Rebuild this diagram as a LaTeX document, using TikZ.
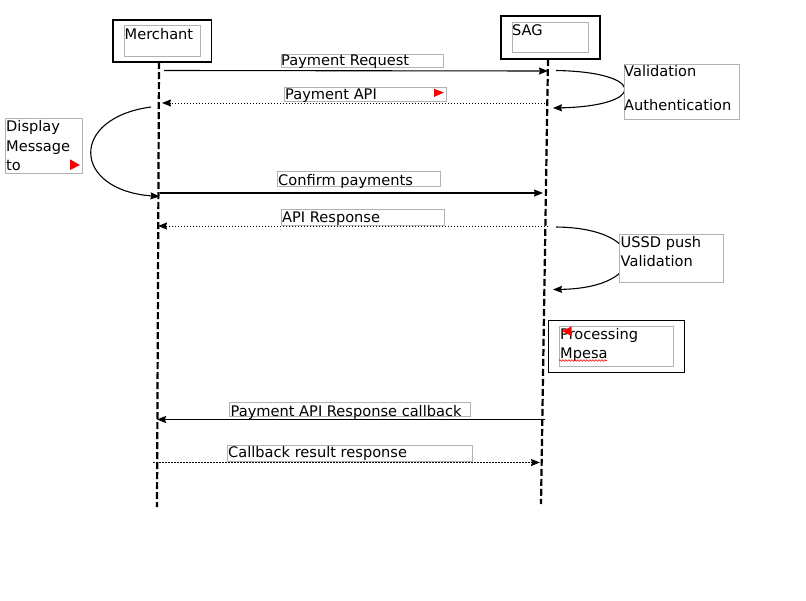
\documentclass[tikz,border=0pt]{standalone}
\usepackage{fontspec}
\setmainfont{DejaVu Sans}
\usetikzlibrary{arrows.meta,decorations.pathmorphing}

\tikzset{
    txt/.style={anchor=base west, inner sep=0pt, font=\fontsize{14.6}{19}\selectfont},
    frame/.style={draw=black!30, fill=white, line width=1pt},
    actor/.style={draw, line width=1.6pt},
    life/.style={line width=2.2pt, dash pattern=on 7pt off 3pt},
    msg/.style={line width=1.1pt, -{Stealth[length=9pt, width=7pt, inset=1pt]}},
    reply/.style={msg, line width=1pt, dash pattern=on 1.5pt off 1.5pt},
    flag/.style={fill=red, draw=none}
}

\begin{document}
\begin{tikzpicture}[x=1pt, y=-1pt]
    \useasboundingbox (0,0) rectangle (806,600);
    % lifelines
    \coordinate (Mtop) at (159,62);
    \coordinate (Mbot) at (157,507);
    \coordinate (Stop) at (548,59);
    \coordinate (Sbot) at (541,504);
    \draw[life] (Mtop) -- (Mbot);
    \draw[life] (Stop) -- (Sbot);
    % message end points
    \path coordinate (m1) at (164,70.5)  coordinate (s1) at (548,71)
          coordinate (s2) at (548,103)   coordinate (m2) at (162,103)
          coordinate (s3a) at (556,70.5) coordinate (s3b) at (553,108)
          coordinate (m4a) at (151,107)  coordinate (m4b) at (159.5,196.5)
          coordinate (m5) at (160,193)   coordinate (s5) at (543,193)
          coordinate (s6) at (548,226)   coordinate (m6) at (158,226)
          coordinate (s7a) at (556,227)  coordinate (s7b) at (553,289.5)
          coordinate (s8) at (545,419.5) coordinate (m8) at (157,419.5)
          coordinate (m9) at (153,462.5) coordinate (s9) at (540,462.5);
    \draw[msg]   (m1) -- (s1);
    \draw[reply] (s2) -- (m2);
    \draw[msg]   (s3a) .. controls (647,72) and (647,106) .. (s3b);
    \draw[msg]   (m4a) .. controls (69,118) and (72,190) .. (m4b);
    \draw[msg]   (m5) -- (s5);
    \draw[reply] (s6) -- (m6);
    \draw[msg]   (s7a) .. controls (650,228) and (650,288) .. (s7b);
    \draw[msg]   (s8) -- (m8);
    \draw[reply] (m9) -- (s9);
    % actors
    \draw[actor] (113,20) rectangle (211.5,62);
    \draw[frame] (124,25.7) rectangle (200.7,56);
    \draw[actor] (501,16) rectangle (600,59);
    \draw[frame] (512.3,22.3) rectangle (588.7,52.3);
    \draw[actor] (548.3,320.5) rectangle (684.3,372.5);
    \draw[frame] (559,326) rectangle (673.7,366);
    % label frames
    \draw[frame] (281,54) rectangle (443,67);
    \draw[frame] (284,87) rectangle (446,101);
    \draw[frame] (624.3,64.3) rectangle (739.3,119.3);
    \draw[frame] (5.3,118.3) rectangle (82.3,173.3);
    \draw[frame] (277.3,171.7) rectangle (440.3,186.7);
    \draw[frame] (281.7,209.5) rectangle (444,225);
    \draw[frame] (619.3,234.3) rectangle (723.7,282.3);
    \draw[frame] (229.3,402.3) rectangle (470.3,416.7);
    \draw[frame] (227.3,445) rectangle (472.7,461);
    % texts
    \path node[txt] (merchant) at (124.5,39) {Merchant}
          node[txt] (sag) at (512,35) {SAG}
          node[txt] (req) at (281,65.5) {Payment Request}
          node[txt] (api) at (285,99) {Payment API}
          node[txt] (valid) at (624,76.5) {Validation}
          node[txt] (auth) at (624,110.5) {Authentication}
          node[txt] (display) at (6,131.5) {Display}
          node[txt] (message) at (6,151) {Message}
          node[txt] (to) at (6,170) {to}
          node[txt] (confirm) at (278,185) {Confirm payments}
          node[txt] (apiresp) at (282,222.5) {API Response}
          node[txt] (ussd) at (620.5,247) {USSD push}
          node[txt] (ussdvalid) at (620.5,266.5) {Validation}
          node[txt] (proc) at (560,339) {Processing}
          node[txt] (mpesa) at (560,358) {Mpesa}
          node[txt] (callback) at (230.5,416) {Payment API Response callback}
          node[txt] (result) at (228,457.5) {Callback result response};
    % markers
    \fill[flag] (434,88.7) -- (444,92.5) -- (434,97) -- cycle;
    \fill[flag] (70,159.3) -- (80,165) -- (70,170) -- cycle;
    \fill[flag] (562,331) -- (571.5,326.5) -- (571.5,336) -- cycle;
    \draw[red, line width=0.6pt, decorate, decoration={snake, amplitude=0.8pt, segment length=3pt}] (559,360.5) -- (607,360.5);
\end{tikzpicture}
\end{document}
